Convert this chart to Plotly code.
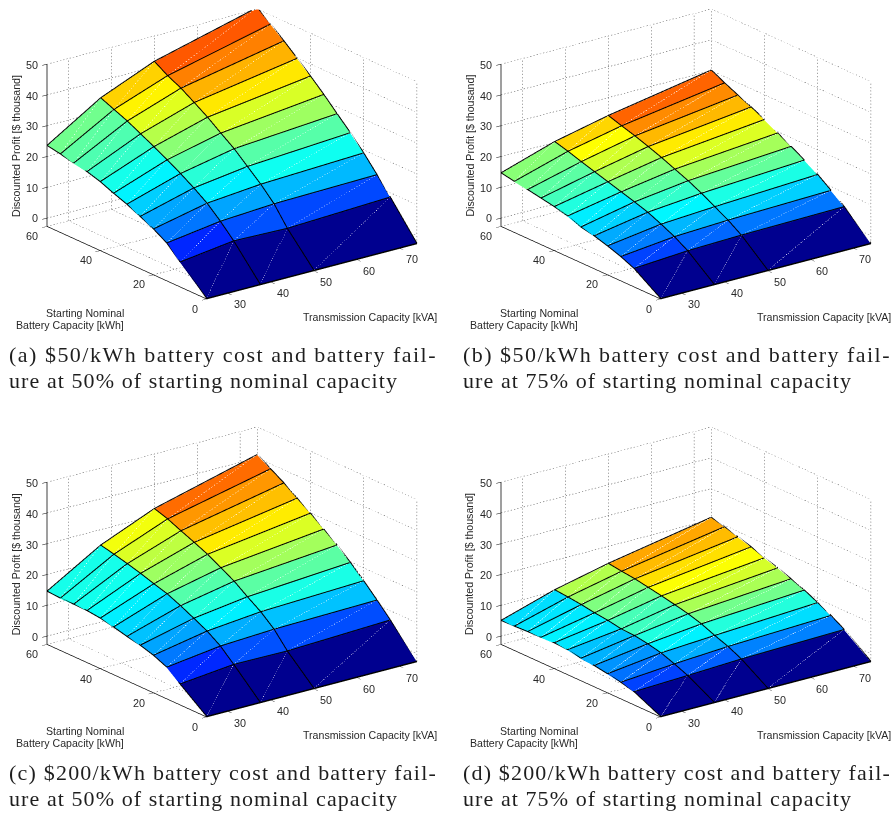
import math
import plotly.graph_objects as go

transmission_kva = [25, 37.5, 50, 74]
battery_kwh = [0, 10, 15, 20, 25, 30, 35, 40, 45, 50, 55, 60]
x_ticks = [30, 40, 50, 60, 70]
y_ticks = [0, 20, 40, 60]
z_ticks = [0, 10, 20, 30, 40, 50]
z_floor = -2.7
z_top = 50

# profit[column of transmission capacity][row of battery capacity], battery ascending
profit_a = [
    [-2.7, 5.2, 9.4, 12.0, 14.1, 16.1, 17.7, 19.5, 20.8, 21.6, 22.6, 23.4],
    [-2.7, 7.5, 11.9, 15.8, 18.8, 21.5, 24.0, 26.3, 28.5, 30.7, 32.5, 34.3],
    [-2.7, 7.0, 13.0, 17.4, 21.2, 25.0, 28.1, 31.3, 34.1, 36.8, 38.9, 41.6],
    [-2.7, 8.4, 13.7, 18.8, 23.4, 27.6, 31.9, 35.9, 39.7, 43.4, 46.9, 50.3],
]
profit_b = [
    [-2.7, 3.1, 5.0, 6.5, 7.8, 8.7, 10.3, 11.4, 12.2, 13.0, 13.7, 14.5],
    [-2.7, 4.3, 6.9, 9.0, 10.9, 12.3, 13.6, 14.9, 16.2, 17.5, 18.9, 20.1],
    [-2.7, 4.8, 7.7, 10.1, 12.5, 14.6, 16.4, 18.2, 19.8, 21.3, 22.6, 24.0],
    [-2.7, 5.3, 8.6, 11.8, 14.5, 17.0, 19.4, 21.8, 23.9, 25.8, 27.8, 30.0],
]
profit_c = [
    [-2.7, 3.9, 7.4, 9.3, 10.6, 11.5, 12.6, 13.5, 14.0, 14.1, 14.1, 14.4],
    [-2.7, 5.7, 9.7, 12.6, 14.8, 16.9, 18.8, 20.1, 21.5, 22.7, 23.8, 24.8],
    [-2.7, 5.5, 10.6, 14.3, 17.2, 20.3, 22.7, 25.1, 27.0, 28.8, 30.7, 32.1],
    [-2.7, 6.8, 11.3, 15.6, 19.6, 23.3, 26.5, 29.7, 32.6, 35.6, 38.2, 40.9],
]
profit_d = [
    [-2.7, 1.4, 2.5, 3.3, 4.0, 4.4, 5.2, 5.5, 5.3, 5.2, 5.0, 4.9],
    [-2.7, 2.1, 3.9, 5.5, 6.5, 7.2, 7.4, 8.2, 8.7, 9.4, 9.9, 10.3],
    [-2.7, 2.9, 5.0, 6.6, 8.4, 9.7, 10.7, 11.6, 12.4, 13.2, 13.7, 14.3],
    [-2.7, 3.7, 6.3, 8.5, 10.6, 12.3, 13.9, 15.2, 16.8, 18.1, 19.4, 20.5],
]
captions = [
    ["(a) $50/kWh battery cost and battery fail-", "ure at 50% of starting nominal capacity"],
    ["(b) $50/kWh battery cost and battery fail-", "ure at 75% of starting nominal capacity"],
    ["(c) $200/kWh battery cost and battery fail-", "ure at 50% of starting nominal capacity"],
    ["(d) $200/kWh battery cost and battery fail-", "ure at 75% of starting nominal capacity"],
]
z_label = "Discounted Profit [$ thousand]"
y_label = ["Starting Nominal", "Battery Capacity [kWh]"]
x_label = "Transmission Capacity [kVA]"

W, H = 894, 813
AZ, EL = math.radians(37.2), math.radians(20.2)
EYE_R = 2.0
SCALE = 1.76
JET = [[0, "rgb(0,0,143)"], [0.111, "rgb(0,0,255)"], [0.365, "rgb(0,255,255)"],
       [0.619, "rgb(255,255,0)"], [0.873, "rgb(255,0,0)"], [1, "rgb(128,0,0)"]]
# approximate on-screen pixels per data unit, only used to space the grid dots
PX_X, PX_Y, PX_Z = 4.44, 2.93, 3.07
DOT_PITCH, DOT_ON = 3.3, 0.38
LIFT = 0.2

fig = go.Figure()
scene_ids = ["scene", "scene2", "scene3", "scene4"]
offsets = [(0, 0), (453.6, 0), (0, 418.3), (453.6, 418.3)]
CX, CY, HW, HH = 232, 154, 205, 150


def add_chart(profit, sid):
    nx, ny = len(transmission_kva), len(battery_kwh)
    xs, ys, zs = [], [], []
    for ix in range(nx):
        for iy in range(ny):
            xs.append(transmission_kva[ix]); ys.append(battery_kwh[iy]); zs.append(profit[ix][iy])
    I, J, K, C = [], [], [], []
    dx, dy, dz = [], [], []
    for ix in range(nx - 1):
        for iy in range(ny - 1):
            a = ix * ny + iy
            b = (ix + 1) * ny + iy
            c = (ix + 1) * ny + iy + 1
            d = ix * ny + iy + 1
            I += [a, a]; J += [b, c]; K += [c, d]
            C += [profit[ix][iy]] * 2
            dx += [xs[a], xs[c], None]; dy += [ys[a], ys[c], None]
            dz += [zs[a] + LIFT, zs[c] + LIFT, None]
    flat = [v for col in profit for v in col]
    fig.add_trace(go.Mesh3d(x=xs, y=ys, z=zs, i=I, j=J, k=K, intensity=C, intensitymode="cell",
                            colorscale=JET, cmin=min(flat), cmax=max(flat), showscale=False,
                            flatshading=True, hoverinfo="skip", scene=sid,
                            lighting=dict(ambient=1, diffuse=0, specular=0, roughness=1, fresnel=0)))
    # faint facet diagonals
    fig.add_trace(go.Scatter3d(x=dx, y=dy, z=dz, mode="lines",
                               line=dict(color="rgba(255,255,255,0.07)", width=1),
                               hoverinfo="skip", showlegend=False, scene=sid))
    # black facet edges
    lx, ly, lz = [], [], []
    for ix in range(nx):
        for iy in range(ny):
            lx.append(transmission_kva[ix]); ly.append(battery_kwh[iy]); lz.append(profit[ix][iy] + LIFT)
        lx.append(None); ly.append(None); lz.append(None)
    for iy in range(ny):
        for ix in range(nx):
            lx.append(transmission_kva[ix]); ly.append(battery_kwh[iy]); lz.append(profit[ix][iy] + LIFT)
        lx.append(None); ly.append(None); lz.append(None)
    fig.add_trace(go.Scatter3d(x=lx, y=ly, z=lz, mode="lines", line=dict(color="black", width=2),
                               hoverinfo="skip", showlegend=False, scene=sid))
    # dotted grid on the back walls and floor, built from the tick values
    x0, x1 = transmission_kva[0], transmission_kva[-1]
    y0, y1 = battery_kwh[0], battery_kwh[-1]
    gx, gy, gz = [], [], []

    def seg(p, q):
        length = math.hypot((q[0] - p[0]) * PX_X, (q[1] - p[1]) * PX_Y, (q[2] - p[2]) * PX_Z)
        n = max(1, int(length / DOT_PITCH))
        for s in range(n):
            t0, t1 = s / n, (s + DOT_ON) / n
            gx.extend([p[0] + (q[0] - p[0]) * t0, p[0] + (q[0] - p[0]) * t1, None])
            gy.extend([p[1] + (q[1] - p[1]) * t0, p[1] + (q[1] - p[1]) * t1, None])
            gz.extend([p[2] + (q[2] - p[2]) * t0, p[2] + (q[2] - p[2]) * t1, None])

    for t in x_ticks:
        seg((t, y1, z_floor), (t, y1, z_top)); seg((t, y0, z_floor), (t, y1, z_floor))
    for t in y_ticks:
        seg((x1, t, z_floor), (x1, t, z_top)); seg((x0, t, z_floor), (x1, t, z_floor))
    for t in z_ticks:
        seg((x0, y1, t), (x1, y1, t)); seg((x1, y1, t), (x1, y0, t))
    fig.add_trace(go.Scatter3d(x=gx, y=gy, z=gz, mode="lines",
                               line=dict(color="rgb(70,70,70)", width=1),
                               hoverinfo="skip", showlegend=False, scene=sid))


for prof, sid in zip([profit_a, profit_b, profit_c, profit_d], scene_ids):
    add_chart(prof, sid)


def axis(vals, rng):
    return dict(range=rng, tickvals=vals, showticklabels=False, title=dict(text=""),
                showgrid=False, zeroline=False, showbackground=False, showspikes=False,
                showline=True, linecolor="black", linewidth=1.5, ticks="inside", ticklen=6,
                tickcolor="black")


def x_tick_labels():
    font = dict(family="Liberation Sans", size=10.8, color="rgb(40,40,40)")
    return [dict(showarrow=False, font=font, yanchor="middle", xanchor="center", borderpad=0,
                 x=t, y=battery_kwh[0], z=z_floor, text=str(t), xshift=12, yshift=-11)
            for t in x_ticks]


for sid, (ox, oy) in zip(scene_ids, offsets):
    fig.layout[sid] = dict(
        domain=dict(x=[(CX + ox - HW) / W, (CX + ox + HW) / W],
                    y=[1 - (CY + oy + HH) / H, 1 - (CY + oy - HH) / H]),
        xaxis=axis(x_ticks, [transmission_kva[0], transmission_kva[-1]]),
        yaxis=axis(y_ticks, [battery_kwh[0], battery_kwh[-1]]),
        zaxis=axis(z_ticks, [z_floor, z_top]),
        aspectmode="manual", aspectratio=dict(x=SCALE, y=SCALE, z=0.655 * SCALE),
        annotations=x_tick_labels(),
        camera=dict(projection=dict(type="orthographic"),
                    up=dict(x=0, y=0, z=1), center=dict(x=0, y=0, z=0),
                    eye=dict(x=-EYE_R * math.sin(AZ) * math.cos(EL),
                             y=-EYE_R * math.cos(AZ) * math.cos(EL),
                             z=EYE_R * math.sin(EL))),
    )

anns = []


def note(x, y, text, size=10.6, family="Liberation Sans", color="rgb(40,40,40)", xanchor="left", angle=0):
    anns.append(dict(x=x / W, y=1 - y / H, xref="paper", yref="paper", text=text, showarrow=False,
                     xanchor=xanchor, yanchor="middle", textangle=angle,
                     font=dict(family=family, size=size, color=color), borderpad=0, borderwidth=0))


for (ox, oy), cap in zip(offsets, captions):
    note(16 + ox, 146 + oy, z_label, xanchor="center", angle=-90)
    note(124 + ox, 313 + oy, y_label[0], xanchor="right")
    note(124 + ox, 325 + oy, y_label[1], xanchor="right")
    note(303 + ox, 317 + oy, x_label)
    for t in y_ticks:
        note(198.2 - t * 2.667 + ox, 308.5 - t * 1.206 + oy, str(t), size=10.8, xanchor="right")
    for t in z_ticks:
        note(38.3 + ox, 218.4 - t * 3.068 + oy, str(t), size=10.8, xanchor="right")
    note(9 + ox, 354 + oy, cap[0], size=22, family="Liberation Serif", color="rgb(30,30,30)")
    note(9 + ox, 380 + oy, cap[1], size=22, family="Liberation Serif", color="rgb(30,30,30)")

fig.update_layout(width=W, height=H, margin=dict(l=0, r=0, t=0, b=0), paper_bgcolor="white",
                  showlegend=False, annotations=anns, hovermode=False)

post = """
document.body.style.margin = '0';
document.documentElement.style.overflow = 'hidden';
document.querySelectorAll('text.annotation-text').forEach(function (t) {
  if ((t.style.fontFamily || '').indexOf('Serif') < 0) return;
  var box = t.getBBox();
  var text = t.textContent;
  var target = text.slice(-1) === '-' ? 428 : 389;
  t.setAttribute('text-anchor', 'start');
  t.setAttribute('x', box.x);
  t.style.letterSpacing = ((target - box.width) / text.length) + 'px';
});
"""
fig.write_html("out.html", post_script=post, config={"displayModeBar": False})
